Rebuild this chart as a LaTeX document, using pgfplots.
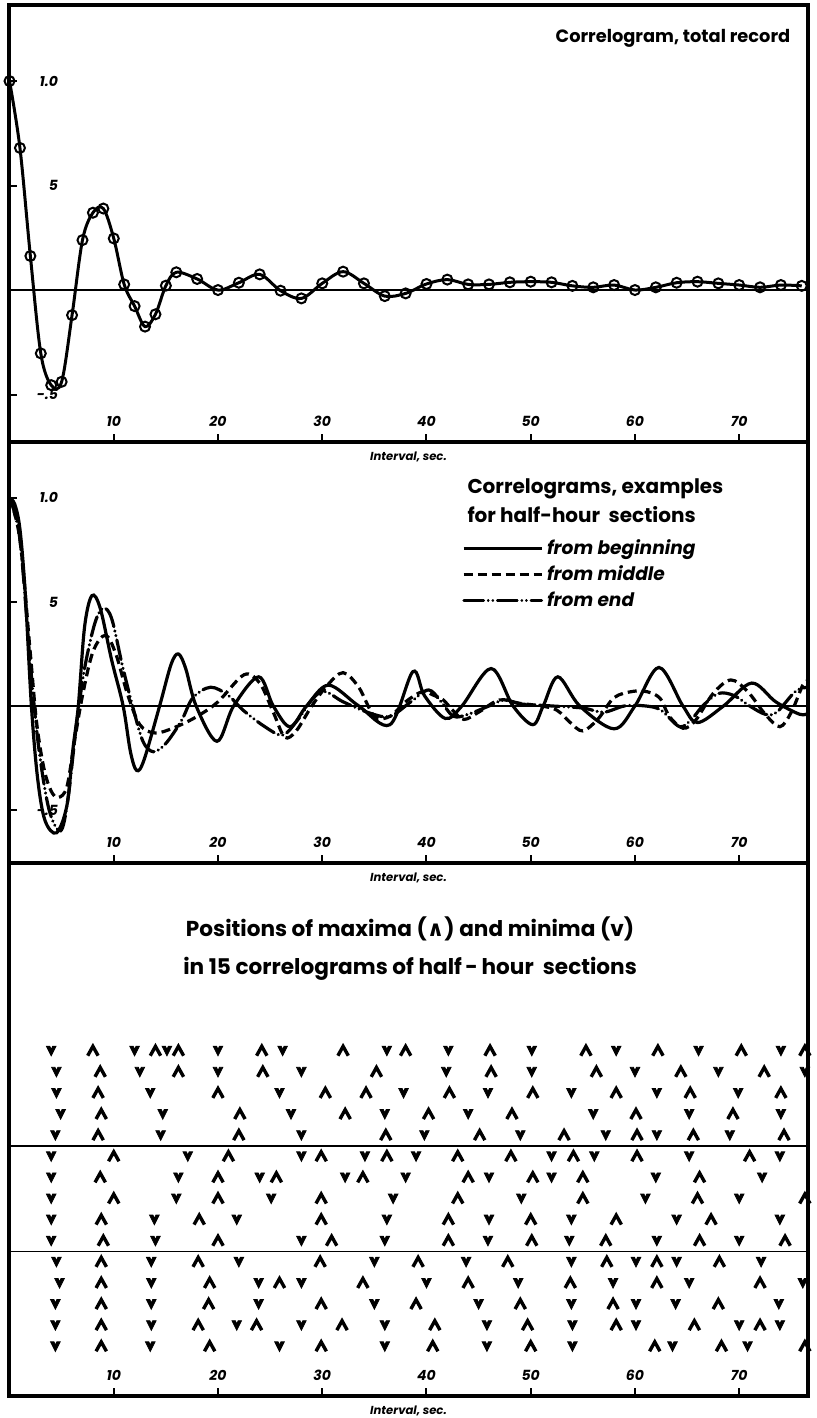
\documentclass[border=0pt]{standalone}
\usepackage{fontspec}
\setmainfont{Poppins}
\newfontfamily\symf{DejaVu Sans}
\usepackage{pgfplots}
\pgfplotsset{compat=1.18}

% maximum: open chevron, minimum: filled "v"
\pgfdeclareplotmark{peak}{%
  \pgfsetlinewidth{1.7pt}\pgfsetmiterjoin
  \pgfpathmoveto{\pgfqpoint{-1.0\pgfplotmarksize}{-0.9\pgfplotmarksize}}%
  \pgfpathlineto{\pgfqpoint{0pt}{0.9\pgfplotmarksize}}%
  \pgfpathlineto{\pgfqpoint{1.0\pgfplotmarksize}{-0.9\pgfplotmarksize}}%
  \pgfusepathqstroke}
\pgfdeclareplotmark{trough}{%
  \pgfpathmoveto{\pgfqpoint{-\pgfplotmarksize}{\pgfplotmarksize}}%
  \pgfpathlineto{\pgfqpoint{0pt}{-\pgfplotmarksize}}%
  \pgfpathlineto{\pgfqpoint{\pgfplotmarksize}{\pgfplotmarksize}}%
  \pgfpathlineto{\pgfqpoint{0.3\pgfplotmarksize}{\pgfplotmarksize}}%
  \pgfpathlineto{\pgfqpoint{0pt}{0.3\pgfplotmarksize}}%
  \pgfpathlineto{\pgfqpoint{-0.3\pgfplotmarksize}{\pgfplotmarksize}}%
  \pgfpathclose
  \pgfusepathqfillstroke}

\pgfplotsset{panel/.style={
  scale only axis, width=399.5pt,
  xmin=-0.05, xmax=76.6,
  axis line style={line width=1.6pt},
  tick align=inside, xtick pos=bottom, ytick pos=left,
  major tick length=4pt,
  tick style={line width=1pt, black},
  xtick={10,20,30,40,50,60,70},
  xticklabels={10,20,30,40,50,60,70},
  xticklabel style={font=\bfseries\itshape\fontsize{7}{8}\selectfont, anchor=south, yshift=4pt},
  yticklabel style={font=\bfseries\itshape\fontsize{7}{8}\selectfont, anchor=east, xshift=28pt},
  xlabel={Interval, sec.},
  xlabel style={font=\bfseries\itshape\fontsize{5.8}{7}\selectfont, at={(axis description cs:0.5,0)}, anchor=north, yshift=-1.5pt},
}}

\begin{document}
\begin{tikzpicture}
\useasboundingbox (0,0) rectangle (408pt,709pt);

% ---- total record
\begin{axis}[panel, at={(4.5pt,706.5pt)}, anchor=north west, height=218.5pt,
  ymin=-0.727, ymax=1.364, ytick={-0.5,0.5,1}, yticklabels={-.5,5,1.0}]
\addplot[line width=0.6pt] coordinates {(-1,0) (80,0)};
\addplot[line width=1.5pt, smooth, tension=0.55, mark=o, mark size=2.5pt,
  mark options={fill=white, line width=1pt}] coordinates {
  (0,1.0) (1,0.68) (2,0.163) (3,-0.303) (4,-0.455) (5,-0.439) (6,-0.12)
  (7,0.239) (8,0.37) (9,0.39) (10,0.247) (11,0.027) (12,-0.077) (13,-0.175)
  (14,-0.116) (15,0.021) (16,0.085) (18,0.053) (20,0.0) (22,0.035) (24,0.075)
  (26,-0.003) (28,-0.04) (30,0.032) (32,0.088) (34,0.032) (36,-0.029)
  (38,-0.016) (40,0.029) (42,0.05) (44,0.027) (46,0.027) (48,0.037) (50,0.04)
  (52,0.037) (54,0.02) (56,0.013) (58,0.024) (60,0.0) (62,0.013) (64,0.035)
  (66,0.04) (68,0.032) (70,0.024) (72,0.013) (74,0.024) (76,0.02)};
\node[font=\bfseries\fontsize{8.9}{11}\selectfont] at (axis description cs:0.831,0.924) {Correlogram, total record};
\end{axis}

% ---- half-hour sections
\begin{axis}[panel, at={(4.5pt,488pt)}, anchor=north west, height=210.5pt,
  ymin=-0.755, ymax=1.269, ytick={-0.5,0.5,1}, yticklabels={-.5,5,1.0},
  legend image code/.code={\draw[#1, line width=1.3pt] (0pt,0pt) -- (39pt,0pt);},
  legend cell align=left,
  legend style={at={(axis description cs:0.567,0.778)}, anchor=north west, draw=none, fill=none,
    inner sep=0pt, row sep=0pt, font=\bfseries\itshape\fontsize{9.3}{10}\selectfont}]
\addplot[line width=0.6pt, forget plot] coordinates {(-1,0) (80,0)};
\addplot[line width=1.6pt, smooth, tension=0.55] coordinates {
  (0,1.0) (0.5,0.97) (1,0.85) (1.5,0.55) (2.1,0) (2.7,-0.35) (3.4,-0.55)
  (4.5,-0.61) (5.5,-0.48) (6.1,-0.2) (6.6,0) (7.2,0.38) (7.9,0.53) (8.7,0.47)
  (9.8,0.22) (10.9,0) (11.6,-0.22) (12.2,-0.31) (12.9,-0.26) (14.4,0)
  (15.5,0.2) (16.2,0.25) (16.9,0.18) (17.9,0) (19.9,-0.17) (21.5,0)
  (23.9,0.14) (25.3,0) (26.9,-0.1) (28.5,0) (30.6,0.1) (33.5,0) (36.5,-0.09)
  (38.7,0.165) (39.8,0.05) (41.8,-0.06) (43.4,0) (46.2,0.18) (48.3,0)
  (50.2,-0.09) (51.2,0) (52.6,0.14) (54.7,0) (58.0,-0.11) (60,0) (62.3,0.185)
  (64.6,0) (66,-0.08) (68.5,0) (71.2,0.11) (73.5,0.02) (75.8,-0.04) (76.6,-0.035)};
\addlegendentry{from beginning}
\addplot[line width=1.6pt, smooth, tension=0.55, dash pattern=on 4.5pt off 2.5pt] coordinates {
  (0,1.0) (1,0.8) (2,0.25) (2.6,-0.08) (3.3,-0.3) (4.0,-0.41) (4.7,-0.44)
  (5.5,-0.39) (6.2,-0.18) (7,0.05) (8,0.26) (9.2,0.34) (10.2,0.25) (11.3,0.06)
  (12.5,-0.09) (14,-0.13) (16,-0.1) (18,-0.05) (20,0.02) (22.5,0.15) (24,0.11)
  (25.3,-0.03) (26.4,-0.15) (27.5,-0.12) (29,0.0) (30.5,0.1) (32,0.16)
  (33.5,0.09) (35,-0.05) (36.5,-0.05) (38,0.02) (39.6,0.069) (40.6,0.053)
  (41.6,0.029) (42.5,-0.02) (43.6,-0.065) (45.1,-0.027) (47,0.029) (48.9,0.013)
  (51,0.0) (52.5,-0.02) (53.8,-0.08) (55,-0.12) (56.5,-0.06) (58,0.04)
  (59.8,0.07) (61.2,0.068) (62.4,0.037) (63.3,-0.05) (64.6,-0.107) (65.8,-0.07)
  (67.5,0.06) (69.2,0.125) (70.8,0.07) (72.5,-0.04) (73.9,-0.1) (75,-0.03)
  (76.1,0.1) (76.6,0.12)};
\addlegendentry{from middle}
\addplot[line width=1.6pt, smooth, tension=0.55, line cap=round,
  dash pattern=on 10pt off 2.2pt on 0.1pt off 2.2pt on 0.1pt off 2.2pt] coordinates {
  (0,1.0) (1,0.8) (2,0.2) (2.8,-0.2) (3.8,-0.5) (4.9,-0.6) (5.6,-0.45)
  (6.4,-0.1) (7.2,0.18) (8.2,0.4) (9,0.47) (9.8,0.42) (10.8,0.2) (11.8,0)
  (12.8,-0.17) (13.8,-0.22) (15,-0.18) (16.5,-0.07) (17.6,0.04) (19.3,0.09)
  (21,0.05) (22.4,-0.02) (24.5,-0.1) (26.2,-0.14) (27.6,-0.07) (29,0.03)
  (30.2,0.07) (32,0.02) (34.6,-0.035) (36.5,-0.05) (38.5,0.02) (40.2,0.077)
  (41.4,0.02) (42.6,-0.05) (44,-0.04) (46,0.0) (47.5,0.03) (49,0.01) (52,0.0)
  (55,-0.01) (57,-0.03) (59,0.0) (61,0.0) (62.5,-0.02) (64.3,-0.1) (65.5,-0.06)
  (66.5,0.0) (68,0.06) (69.5,0.05) (71,0.0) (72.5,-0.04) (73.6,-0.03)
  (75.4,0.07) (76.6,0.09)};
\addlegendentry{from end}
\node[anchor=north west, align=left, font=\bfseries\fontsize{10}{14.5}\selectfont]
  at (axis description cs:0.565,0.93) {Correlograms, examples\\for half-hour\ \ sections};
\end{axis}

% ---- positions of maxima and minima, rows 1-15
\begin{axis}[panel, at={(4.5pt,277.5pt)}, anchor=north west, height=266.5pt,
  y dir=reverse, ymin=-7.906, ymax=17.34, ytick=\empty]
\addplot[line width=0.9pt] coordinates {(-1,5.5) (80,5.5)};
\addplot[line width=0.9pt] coordinates {(-1,10.5) (80,10.5)};
% maxima
\addplot[only marks, mark=peak, mark size=2.6pt] coordinates {
  (8.0,1) (14.0,1) (16.2,1) (24.2,1) (32.0,1) (38.0,1) (46.1,1) (55.3,1) (62.2,1) (70.2,1) (76.3,1)
  (8.7,2) (16.2,2) (24.3,2) (35.2,2) (46.2,2) (56.3,2) (64.4,2) (72.4,2)
  (8.5,3) (20.0,3) (30.3,3) (34.2,3) (42.2,3) (50.2,3) (58.2,3) (65.3,3) (74.0,3)
  (8.8,4) (22.1,4) (32.2,4) (40.2,4) (48.2,4) (60.1,4) (69.4,4)
  (8.5,5) (22.0,5) (36.1,5) (45.1,5) (53.2,5) (60.2,5) (65.6,5) (74.3,5)
  (10.0,6) (21.0,6) (29.9,6) (36.2,6) (43.0,6) (48.1,6) (54.1,6) (60.2,6) (71.0,6)
  (8.7,7) (20.0,7) (25.6,7) (33.9,7) (44.0,7) (50.2,7) (55.0,7) (66.2,7)
  (10.0,8) (20.0,8) (29.9,8) (43.0,8) (55.0,8) (66.0,8) (76.3,8)
  (8.8,9) (18.2,9) (29.9,9) (42.1,9) (50.0,9) (58.2,9) (67.3,9)
  (9.0,10) (20.0,10) (30.9,10) (42.1,10) (50.1,10) (57.2,10) (66.2,10) (74.4,10)
  (8.8,11) (18.1,11) (29.8,11) (39.2,11) (47.8,11) (57.3,11) (62.1,11) (68.1,11)
  (8.8,12) (19.2,12) (25.9,12) (33.9,12) (44.0,12) (53.8,12) (62.1,12) (72.0,12)
  (8.8,13) (19.1,13) (29.9,13) (39.0,13) (49.0,13) (57.9,13) (68.0,13)
  (8.8,14) (18.1,14) (23.7,14) (31.9,14) (40.8,14) (49.7,14) (58.2,14) (65.7,14) (72.0,14)
  (8.8,15) (19.2,15) (29.9,15) (40.6,15) (50.0,15) (61.9,15) (68.3,15) (76.3,15)};
% minima
\addplot[only marks, mark=trough, mark size=2.4pt, fill=black] coordinates {
  (4.0,1) (12.0,1) (15.1,1) (20.0,1) (26.2,1) (36.2,1) (42.1,1) (50.1,1) (58.2,1) (66.1,1) (74.0,1)
  (4.5,2) (12.5,2) (20.0,2) (28.0,2) (41.9,2) (50.1,2) (60.0,2) (68.0,2) (76.3,2)
  (4.5,3) (13.5,3) (25.9,3) (37.8,3) (45.9,3) (53.9,3) (62.1,3) (69.9,3)
  (4.9,4) (14.7,4) (27.0,4) (36.0,4) (44.0,4) (56.0,4) (65.2,4) (74.0,4)
  (4.4,5) (14.5,5) (28.0,5) (39.8,5) (49.0,5) (57.2,5) (62.1,5) (69.1,5)
  (4.0,6) (17.1,6) (28.0,6) (34.1,6) (39.0,6) (52.0,6) (56.1,6) (65.2,6) (73.9,6)
  (4.0,7) (16.2,7) (24.0,7) (32.2,7) (38.0,7) (46.0,7) (52.0,7) (62.0,7) (72.2,7)
  (4.0,8) (16.0,8) (25.1,8) (36.8,8) (49.1,8) (61.0,8) (70.0,8)
  (4.0,9) (13.9,9) (21.8,9) (36.2,9) (46.0,9) (53.9,9) (64.0,9) (73.9,9)
  (4.0,10) (14.0,10) (28.0,10) (36.0,10) (45.9,10) (53.7,10) (62.1,10) (70.0,10)
  (4.5,11) (13.6,11) (22.0,11) (35.0,11) (43.8,11) (53.9,11) (60.1,11) (64.0,11) (72.1,11)
  (4.8,12) (13.6,12) (23.9,12) (28.0,12) (40.0,12) (48.8,12) (57.9,12) (65.2,12) (76.1,12)
  (4.4,13) (13.6,13) (23.9,13) (35.0,13) (45.0,13) (53.9,13) (60.1,13) (63.9,13) (73.8,13)
  (4.4,14) (13.6,14) (21.8,14) (28.0,14) (36.0,14) (45.8,14) (54.0,14) (60.1,14) (70.0,14) (73.9,14)
  (4.4,15) (13.5,15) (25.9,15) (36.0,15) (45.8,15) (54.0,15) (63.6,15) (70.8,15)};
\node[align=center, font=\bfseries\fontsize{10.8}{19}\selectfont]
  at (axis description cs:0.502,0.839)
  {Positions of maxima ({\symf ∧}) and minima (v)\\in 15 correlograms of half\,-\,hour\ \ sections};
\end{axis}
\end{tikzpicture}
\end{document}
